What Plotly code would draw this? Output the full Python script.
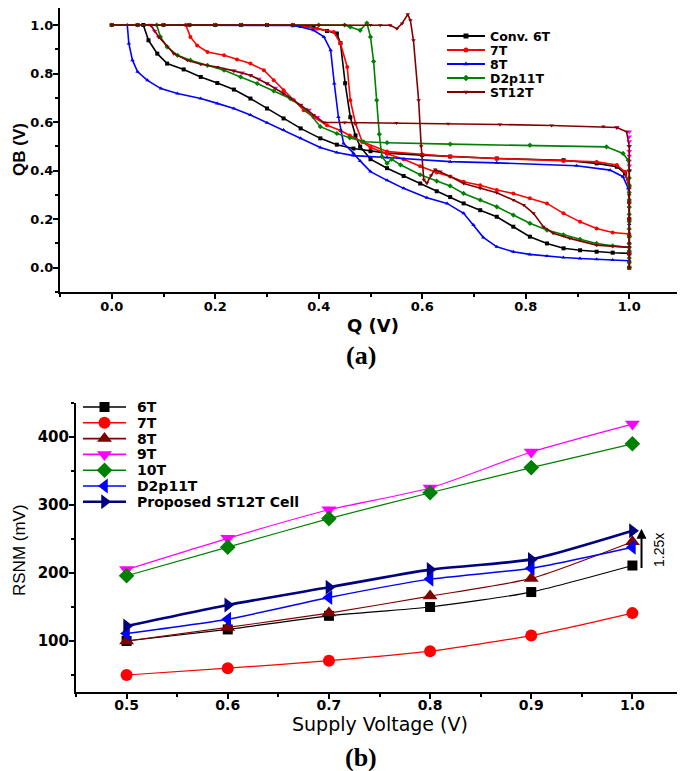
import plotly.graph_objects as go

# ---------------- (a) butterfly curves: QB vs Q ----------------
Q_6T_A = [0.0, 0.05, 0.10, 0.15, 0.20, 0.25, 0.30, 0.35, 0.39, 0.416, 0.435, 0.442, 0.451, 0.461, 0.471,
          0.480, 0.500, 0.532, 0.564, 0.596, 0.628, 0.654, 0.680, 0.712, 0.744, 0.776, 0.808, 0.841, 0.873,
          0.905, 0.937, 0.968, 1.0]
QB_6T_A = [1.0, 1.0, 1.0, 1.0, 1.0, 1.0, 1.0, 0.999, 0.99, 0.975, 0.965, 0.925, 0.76, 0.62, 0.545,
           0.499, 0.447, 0.410, 0.378, 0.347, 0.315, 0.291, 0.265, 0.237, 0.210, 0.169, 0.128, 0.100, 0.080,
           0.072, 0.066, 0.062, 0.059]
Q_6T_B = [0.061, 0.071, 0.088, 0.107, 0.139, 0.172, 0.204, 0.236, 0.268, 0.300, 0.332, 0.365, 0.403, 0.435,
          0.467, 0.500, 0.532, 0.600, 0.654, 0.744, 0.873, 0.937, 0.976, 0.992, 1.0, 1.0, 1.0, 1.0, 1.0, 1.0]
QB_6T_B = [1.0, 0.937, 0.882, 0.841, 0.817, 0.786, 0.761, 0.734, 0.697, 0.656, 0.615, 0.574, 0.533, 0.507,
           0.491, 0.480, 0.472, 0.464, 0.458, 0.450, 0.443, 0.430, 0.416, 0.388, 0.333, 0.27, 0.20, 0.13, 0.06, 0.0]

Q_7T_A = [0.0, 0.05, 0.10, 0.15, 0.20, 0.25, 0.30, 0.35, 0.397, 0.429, 0.442, 0.455, 0.461, 0.471, 0.484,
          0.500, 0.532, 0.564, 0.596, 0.628, 0.654, 0.680, 0.712, 0.744, 0.776, 0.808, 0.841, 0.873, 0.905,
          0.937, 0.968, 1.0]
QB_7T_A = [1.0, 1.0, 1.0, 1.0, 1.0, 1.0, 1.0, 1.0, 0.985, 0.971, 0.924, 0.827, 0.690, 0.594, 0.519,
           0.495, 0.470, 0.447, 0.418, 0.392, 0.376, 0.354, 0.340, 0.320, 0.306, 0.286, 0.265, 0.224, 0.189,
           0.162, 0.145, 0.139]
Q_7T_B = [0.143, 0.152, 0.165, 0.185, 0.217, 0.242, 0.268, 0.294, 0.313, 0.332, 0.352, 0.371, 0.390, 0.416,
          0.442, 0.460, 0.484, 0.532, 0.600, 0.654, 0.744, 0.873, 0.937, 0.976, 0.992, 1.0, 1.0, 1.0, 1.0, 1.0, 1.0]
QB_7T_B = [1.0, 0.951, 0.916, 0.889, 0.875, 0.858, 0.841, 0.814, 0.772, 0.731, 0.690, 0.649, 0.621, 0.587,
           0.565, 0.545, 0.519, 0.479, 0.466, 0.458, 0.450, 0.440, 0.436, 0.423, 0.395, 0.333, 0.27, 0.20, 0.13,
           0.06, 0.0]

Q_8T_A = [0.0, 0.05, 0.10, 0.15, 0.20, 0.25, 0.30, 0.35, 0.365, 0.390, 0.410, 0.423, 0.430, 0.438, 0.448,
          0.467, 0.480, 0.500, 0.532, 0.564, 0.609, 0.648, 0.680, 0.699, 0.718, 0.744, 0.776, 0.808, 0.841,
          0.873, 0.905, 0.937, 0.968, 1.0]
QB_8T_A = [1.0, 1.0, 1.0, 1.0, 1.0, 1.0, 1.0, 0.998, 0.992, 0.978, 0.951, 0.896, 0.759, 0.621, 0.512,
           0.472, 0.44, 0.396, 0.36, 0.327, 0.288, 0.265, 0.224, 0.176, 0.125, 0.086, 0.066, 0.055, 0.048,
           0.042, 0.038, 0.035, 0.032, 0.029]
Q_8T_B = [0.030, 0.033, 0.040, 0.050, 0.069, 0.095, 0.127, 0.172, 0.204, 0.236, 0.268, 0.300, 0.332, 0.365,
          0.403, 0.435, 0.467, 0.532, 0.654, 0.744, 0.898, 0.963, 0.988, 0.998, 1.0, 1.0, 1.0, 1.0]
QB_8T_B = [1.0, 0.924, 0.855, 0.807, 0.772, 0.738, 0.718, 0.697, 0.677, 0.656, 0.629, 0.597, 0.567, 0.533,
           0.495, 0.475, 0.462, 0.454, 0.437, 0.432, 0.420, 0.402, 0.375, 0.327, 0.25, 0.18, 0.10, 0.03]

Q_D2_A = [0.0, 0.05, 0.10, 0.15, 0.20, 0.25, 0.30, 0.35, 0.40, 0.45, 0.461, 0.480, 0.493, 0.500, 0.506,
          0.512, 0.517, 0.522, 0.532, 0.541, 0.558, 0.596, 0.628, 0.654, 0.680, 0.712, 0.744, 0.776, 0.808,
          0.841, 0.873, 0.905, 0.937, 0.968, 1.0]
QB_D2_A = [1.0, 1.0, 1.0, 1.0, 1.0, 1.0, 1.0, 1.0, 1.0, 1.0, 0.992, 0.978, 1.008, 0.951, 0.85,
           0.69, 0.55, 0.458, 0.430, 0.447, 0.424, 0.383, 0.357, 0.337, 0.306, 0.279, 0.251, 0.217, 0.183,
           0.155, 0.135, 0.117, 0.100, 0.090, 0.084]
Q_D2_B = [0.087, 0.094, 0.107, 0.127, 0.152, 0.185, 0.217, 0.249, 0.281, 0.313, 0.345, 0.377, 0.403, 0.435,
          0.460, 0.487, 0.532, 0.654, 0.808, 0.956, 0.988, 0.998, 1.0, 1.0, 1.0, 1.0, 1.0, 1.0, 1.0, 1.0, 1.0,
          1.0, 1.0, 1.0, 1.0, 1.0, 1.0]
QB_D2_B = [1.0, 0.951, 0.910, 0.875, 0.855, 0.834, 0.814, 0.786, 0.759, 0.728, 0.697, 0.649, 0.581, 0.553,
           0.535, 0.519, 0.515, 0.509, 0.505, 0.498, 0.471, 0.443, 0.40, 0.37, 0.34, 0.31, 0.28, 0.25, 0.22,
           0.19, 0.16, 0.13, 0.10, 0.07, 0.04, 0.02, 0.0]

Q_ST_A = [0.0, 0.05, 0.10, 0.15, 0.20, 0.25, 0.30, 0.35, 0.40, 0.45, 0.50, 0.519, 0.538, 0.551, 0.561,
          0.572, 0.577, 0.583, 0.593, 0.598, 0.603, 0.609, 0.617, 0.625, 0.635, 0.654, 0.680, 0.712, 0.744,
          0.776, 0.796, 0.815, 0.834, 0.853, 0.885, 0.937, 1.0]
QB_ST_A = [1.0, 1.0, 1.0, 1.0, 1.0, 1.0, 1.0, 1.0, 1.0, 1.0, 1.0, 0.999, 0.999, 0.985, 1.006,
           1.044, 1.020, 0.937, 0.690, 0.50, 0.362, 0.348, 0.38, 0.405, 0.396, 0.376, 0.347, 0.327, 0.309,
           0.279, 0.258, 0.224, 0.169, 0.142, 0.121, 0.093, 0.084]
Q_ST_B = [0.075, 0.091, 0.120, 0.146, 0.172, 0.204, 0.236, 0.268, 0.300, 0.332, 0.365, 0.390, 0.410, 0.45,
          0.55, 0.65, 0.75, 0.85, 0.95, 0.976, 0.995, 1.0, 1.0, 1.0, 1.0, 1.0, 1.0]
QB_ST_B = [1.0, 0.951, 0.882, 0.855, 0.838, 0.827, 0.811, 0.793, 0.759, 0.718, 0.670, 0.629, 0.598, 0.598,
           0.596, 0.593, 0.590, 0.586, 0.582, 0.578, 0.560, 0.50, 0.40, 0.30, 0.20, 0.10, 0.0]

# magenta markers visible under the ST12T curve
Q_MAG = [0.075, 0.083, 0.091, 0.236, 0.252, 0.268, 0.284, 0.300, 0.316, 0.332, 0.348, 0.365, 0.381, 0.397,
         0.976, 1.0, 1.0, 1.0, 1.0, 1.0, 1.0, 1.0, 1.0, 1.0]
QB_MAG = [1.0, 0.975, 0.951, 0.811, 0.803, 0.793, 0.777, 0.759, 0.740, 0.718, 0.695, 0.670, 0.650, 0.620,
          0.578, 0.56, 0.54, 0.52, 0.50, 0.48, 0.46, 0.44, 0.42, 0.40]

# ---------------- (b) RSNM vs supply voltage ----------------
VDD = [0.5, 0.6, 0.7, 0.8, 0.9, 1.0]
RSNM_6T = [100, 117, 137, 150, 172, 211]
RSNM_7T = [50, 60, 71, 85, 108, 141]
RSNM_8T = [100, 120, 141, 166, 192, 246]
RSNM_9T = [205, 251, 293, 325, 378, 419]
RSNM_10T = [196, 238, 280, 318, 355, 390]
RSNM_D2P11T = [111, 132, 164, 191, 207, 238]
RSNM_ST12T = [122, 153, 179, 205, 220, 262]

SANS = "Liberation Sans, Arial, sans-serif"
WIDE = "DejaVu Sans, Verdana, sans-serif"
SERIF = "Liberation Serif, Times New Roman, serif"

# page geometry (the page body adds an 8 px offset)
W, H, OFF = 685, 771, 8
FW, FH = W - OFF, H - OFF


def xp(p):
    return (p - OFF) / FW


def yp(p):
    return 1 - (p - OFF) / FH


fig = go.Figure()

top_cells = [
    ("Conv. 6T", Q_6T_A, QB_6T_A, Q_6T_B, QB_6T_B, "#000000", "square"),
    ("7T", Q_7T_A, QB_7T_A, Q_7T_B, QB_7T_B, "#FF0000", "circle"),
    ("8T", Q_8T_A, QB_8T_A, Q_8T_B, QB_8T_B, "#0000FF", "triangle-up"),
    ("D2p11T", Q_D2_A, QB_D2_A, Q_D2_B, QB_D2_B, "#008000", "diamond"),
    ("ST12T", Q_ST_A, QB_ST_A, Q_ST_B, QB_ST_B, "#800000", "triangle-down"),
]
for name, xa, ya, xb, yb, color, sym in top_cells:
    if name == "D2p11T":
        fig.add_trace(go.Scatter(x=Q_MAG, y=QB_MAG, mode="markers",
                                 marker=dict(symbol="triangle-down", size=5, color="#FF00FF"),
                                 xaxis="x", yaxis="y", showlegend=False, hoverinfo="skip"))
    for xs, ys in ((xa, ya), (xb, yb)):
        fig.add_trace(go.Scatter(x=xs, y=ys, mode="lines+markers", name=name,
                                 line=dict(color=color, width=1.6),
                                 marker=dict(symbol=sym, size=4, color=color),
                                 xaxis="x", yaxis="y", showlegend=False))

bottom_series = [
    ("6T", RSNM_6T, "#000000", "square", 10, 1.2),
    ("7T", RSNM_7T, "#FF0000", "circle", 12, 1.2),
    ("8T", RSNM_8T, "#800000", "triangle-up", 13, 1.2),
    ("9T", RSNM_9T, "#FF00FF", "triangle-down", 13, 1.2),
    ("10T", RSNM_10T, "#008000", "diamond", 12, 1.2),
    ("D2p11T", RSNM_D2P11T, "#0000FF", "triangle-left", 13, 1.5),
    ("Proposed ST12T Cell", RSNM_ST12T, "#000080", "triangle-right", 13, 2.6),
]
for name, vals, color, sym, msize, lw in bottom_series:
    fig.add_trace(go.Scatter(x=VDD, y=vals, mode="lines+markers", name=name,
                             line=dict(color=color, width=lw, shape="spline", smoothing=0.6),
                             marker=dict(symbol=sym, size=msize, color=color),
                             xaxis="x2", yaxis="y2", showlegend=False))

# ---- hand-drawn legends on an invisible page-pixel overlay axis ----
LEG_A = dict(x0=447, x1=485, tx=489, y0=36, dy=14.0, size=12.5, msize=5, lw=2)
LEG_B = dict(x0=83, x1=126, tx=136, y0=407, dy=15.8, size=14, msize=None, lw=None)


def draw_legend(entries, cfg):
    for i, (name, color, sym, msize, lw) in enumerate(entries):
        yy = cfg["y0"] + i * cfg["dy"]
        fig.add_trace(go.Scatter(x=[cfg["x0"], cfg["x1"]], y=[yy, yy], mode="lines",
                                 line=dict(color=color, width=cfg["lw"] or lw),
                                 xaxis="x3", yaxis="y3", showlegend=False, hoverinfo="skip"))
        fig.add_trace(go.Scatter(x=[(cfg["x0"] + cfg["x1"]) / 2], y=[yy], mode="markers",
                                 marker=dict(symbol=sym, size=cfg["msize"] or msize, color=color),
                                 xaxis="x3", yaxis="y3", showlegend=False, hoverinfo="skip"))
        fig.add_annotation(x=cfg["tx"], y=yy, xref="x3", yref="y3", text=name, showarrow=False,
                           xanchor="left", yanchor="middle", borderpad=0,
                           font=dict(family=WIDE, size=cfg["size"], color="black", weight="bold"))


draw_legend([(c[0], c[5], c[6], 5, 2) for c in top_cells], LEG_A)
draw_legend([(s[0], s[2], s[3], s[4], max(s[5], 1.6)) for s in bottom_series], LEG_B)

axis_common = dict(showline=True, linecolor="black", linewidth=2, ticks="outside", ticklen=5,
                   tickwidth=1.5, tickcolor="black", showgrid=False, zeroline=False, mirror=False)


def minor(d, t0):
    return dict(dtick=d, tick0=t0, ticklen=3, tickwidth=1.5, tickcolor="black", ticks="outside")


fig.update_layout(
    width=FW, height=FH,
    margin=dict(l=0, r=0, t=0, b=0),
    paper_bgcolor="white", plot_bgcolor="rgba(0,0,0,0)",
    xaxis=dict(domain=[xp(60), xp(681)], range=[-0.1, 1.1], tick0=0, dtick=0.2, tickformat=".1f",
               minor=minor(0.1, 0), anchor="y", ticklabelstandoff=-4,
               tickfont=dict(family=WIDE, size=13, color="black", weight="bold"), **axis_common),
    yaxis=dict(domain=[yp(292), 1.0], range=[-0.1, 1.07], tick0=0, dtick=0.2, tickformat=".1f",
               minor=minor(0.1, 0), anchor="x", ticklabelstandoff=-3,
               tickfont=dict(family=WIDE, size=13, color="black", weight="bold"), **axis_common),
    xaxis2=dict(domain=[xp(76), xp(683)], range=[0.45, 1.05], tick0=0.5, dtick=0.1, tickformat=".1f",
                minor=minor(0.05, 0.5), anchor="y2", ticklabelstandoff=-6,
                tickfont=dict(family=WIDE, size=14, color="black", weight="bold"), **axis_common),
    yaxis2=dict(domain=[yp(692), yp(403)], range=[25, 450], tick0=0, dtick=100,
                minor=minor(50, 0), anchor="x2", ticklabelstandoff=-3,
                tickfont=dict(family=WIDE, size=15, color="black", weight="bold"), **axis_common),
    xaxis3=dict(domain=[0, 1], range=[OFF, W], visible=False, fixedrange=True, anchor="y3"),
    yaxis3=dict(domain=[0, 1], range=[H, OFF], visible=False, fixedrange=True, anchor="x3"),
    showlegend=False,
)

ann = [
    dict(text="QB (V)", px=19, py=150, textangle=-90,
         font=dict(family=SANS, size=17, color="black", weight="bold")),
    dict(text="Q (V)", px=373, py=325, textangle=0,
         font=dict(family=WIDE, size=18, color="black", weight="bold")),
    dict(text="(a)", px=361, py=355, textangle=0,
         font=dict(family=SERIF, size=26, color="black", weight="bold")),
    dict(text="RSNM (mV)", px=19, py=550, textangle=-90,
         font=dict(family=SANS, size=17, color="black")),
    dict(text="Supply Voltage (V)", px=380, py=724, textangle=0,
         font=dict(family=WIDE, size=19, color="black")),
    dict(text="(b)", px=361, py=757, textangle=0,
         font=dict(family=SERIF, size=26, color="black", weight="bold")),
    dict(text="1.25x", px=659, py=550, textangle=-90,
         font=dict(family="Liberation Sans Narrow, Arial Narrow, Liberation Sans", size=14, color="black")),
]
for a in ann:
    fig.add_annotation(xref="paper", yref="paper", x=xp(a["px"]), y=yp(a["py"]), text=a["text"],
                       textangle=a["textangle"], font=a["font"], showarrow=False, borderpad=0,
                       xanchor="center", yanchor="middle")

# 1.25x arrow
fig.add_annotation(x=1.009, y=265, ax=1.009, ay=205, xref="x2", yref="y2", axref="x2", ayref="y2",
                   text="", showarrow=True, arrowhead=2, arrowsize=1, arrowwidth=2, arrowcolor="black")

fig.write_html("out.html")
